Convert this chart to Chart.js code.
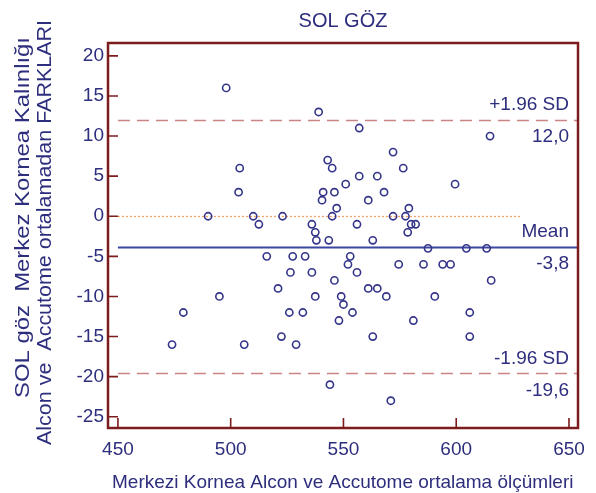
<!DOCTYPE html>
<html><head><meta charset="utf-8">
<script src="https://cdn.jsdelivr.net/npm/chart.js@4"></script>
<style>html,body{margin:0;padding:0;background:#fff;}canvas{display:block;}</style>
</head><body>
<canvas id="c" width="596" height="493"></canvas>
<script>
const chartTitle = 'SOL GÖZ';
const yTitleLines = ['SOL göz  Merkez Kornea Kalınlığı', 'Alcon ve  Accutome ortalamadan FARKLARI'];
const xTitle = 'Merkezi Kornea Alcon ve Accutome ortalama ölçümleri';
const xTicks = [450, 500, 550, 600, 650];
const yTicks = [20, 15, 10, 5, 0, -5, -10, -15, -20, -25];

const meanOfMethods = [498,539,557,615,572,543,545,504,576.5,557,565,551,599.5,503.5,541,546,568,540.5,561,547,579,490,510,523,545,572,577.5,512.5,536,556,580,582,537.5,578.5,538,543.5,563,587.5,604.5,613.5,516,527.5,533,553,552,574.5,585.5,594,597.5,526.5,536,556,546,615.5,521,561,565,495,537.5,549,569,590.5,550,479,526,532,554,606,548,581,522.5,563,606,474,506,529,544,571];
const differences = [16,13,11,10,8,7,6,6,6,5,5,4,4,3,3,3,3,2,2,1,1,0,0,0,0,0,0,-1,-1,-1,-1,-1,-2,-2,-3,-3,-3,-4,-4,-4,-5,-5,-5,-5,-6,-6,-6,-6,-6,-7,-7,-7,-8,-8,-9,-9,-9,-10,-10,-10,-10,-10,-11,-12,-12,-12,-12,-12,-13,-13,-15,-15,-15,-16,-16,-16,-21,-23];

const meanDiff = -3.8;
const upperLimit = 12.0;
const lowerLimit = -19.6;
const refLineStart = 450;
const zeroLineRange = [450, 629];
const refLabels = [
  {value: upperLimit, above: '+1.96 SD', below: '12,0'},
  {value: meanDiff, above: 'Mean', below: '-3,8'},
  {value: lowerLimit, above: '-1.96 SD', below: '-19,6'}
];

const NAVY = '#2e2e7e';
const FRAME = '#7d1c1c';
const FONT = '"Liberation Sans", Arial, sans-serif';

const points = meanOfMethods.map((m, i) => ({x: m, y: differences[i]}));

function fitText(ctx, text, x, y, length, rot) {
  ctx.save();
  ctx.translate(x, y);
  ctx.rotate(rot);
  const w = ctx.measureText(text).width;
  ctx.scale(length / w, 1);
  ctx.fillText(text, 0, 0);
  ctx.restore();
}

const deco = {
  id: 'deco',
  beforeDatasetsDraw(chart) {
    const {ctx, chartArea: a, scales: {x, y}} = chart;
    ctx.save();
    const hline = (x0, x1, v) => {
      const py = Math.round(y.getPixelForValue(v)) + 0.5;
      ctx.beginPath(); ctx.moveTo(x0, py); ctx.lineTo(x1, py); ctx.stroke();
    };
    ctx.strokeStyle = '#f2a066'; ctx.lineWidth = 1.3; ctx.setLineDash([2, 2]);
    hline(x.getPixelForValue(zeroLineRange[0]), x.getPixelForValue(zeroLineRange[1]), 0);
    ctx.strokeStyle = '#c98585'; ctx.lineWidth = 1.5; ctx.setLineDash([12, 7]);
    hline(x.getPixelForValue(refLineStart), a.right, upperLimit);
    hline(x.getPixelForValue(refLineStart), a.right, lowerLimit);
    ctx.setLineDash([]); ctx.strokeStyle = '#3a46a0'; ctx.lineWidth = 2;
    hline(x.getPixelForValue(refLineStart), a.right, meanDiff);
    ctx.restore();
  },
  afterDraw(chart) {
    const {ctx, chartArea: a, scales: {x, y}} = chart;
    ctx.save();
    ctx.strokeStyle = FRAME; ctx.lineWidth = 2.5;
    ctx.strokeRect(a.left, a.top, a.right - a.left, a.bottom - a.top);
    ctx.lineWidth = 1.6;
    ctx.beginPath();
    yTicks.forEach(v => { const py = y.getPixelForValue(v); ctx.moveTo(a.left, py); ctx.lineTo(a.left + 10, py); });
    xTicks.forEach(v => { const px = x.getPixelForValue(v); ctx.moveTo(px, a.bottom); ctx.lineTo(px, a.bottom - 10); });
    ctx.stroke();
    ctx.fillStyle = NAVY; ctx.font = '19px ' + FONT; ctx.textAlign = 'right'; ctx.textBaseline = 'middle';
    refLabels.forEach(r => {
      const py = y.getPixelForValue(r.value);
      ctx.fillText(r.above, a.right - 9, py - 15);
      ctx.fillText(r.below, a.right - 9, py + 17);
    });
    ctx.textAlign = 'center';
    ctx.font = '20px ' + FONT;
    ctx.fillText(chartTitle, (a.left + a.right) / 2, 21);
    ctx.font = '19px ' + FONT;
    ctx.textAlign = 'left';
    ctx.fillText(xTitle, 112, 483);
    ctx.font = '20px ' + FONT; ctx.textAlign = 'left';
    fitText(ctx, yTitleLines[0], 23, 398, 361, -Math.PI / 2);
    fitText(ctx, yTitleLines[1], 45, 445, 425, -Math.PI / 2);
    ctx.restore();
  }
};

new Chart(document.getElementById('c'), {
  type: 'scatter',
  data: {datasets: [{
    data: points,
    pointStyle: 'circle',
    pointRadius: 3.6,
    pointBorderWidth: 1.6,
    pointBorderColor: '#34348a',
    pointBackgroundColor: 'rgba(0,0,0,0)'
  }]},
  options: {
    responsive: false,
    animation: false,
    layout: {padding: {top: 43, right: 18, left: 0, bottom: 0}},
    plugins: {legend: {display: false}, tooltip: {enabled: false}, title: {display: false}},
    scales: {
      x: {
        type: 'linear', min: 445.6, max: 654,
        afterBuildTicks: s => { s.ticks = xTicks.map(v => ({value: v})); },
        afterFit: s => { s.height = 65; },
        grid: {display: false, drawTicks: false}, border: {display: false},
        ticks: {color: NAVY, font: {family: FONT, size: 19}, padding: 10, maxRotation: 0, autoSkip: false}
      },
      y: {
        type: 'linear', min: -26.4, max: 21.6,
        afterBuildTicks: s => { s.ticks = yTicks.map(v => ({value: v})); },
        afterFit: s => { s.width = 108; },
        grid: {display: false, drawTicks: false}, border: {display: false},
        ticks: {color: NAVY, font: {family: FONT, size: 19}, padding: 4, autoSkip: false}
      }
    }
  },
  plugins: [deco]
});
</script>
</body></html>
